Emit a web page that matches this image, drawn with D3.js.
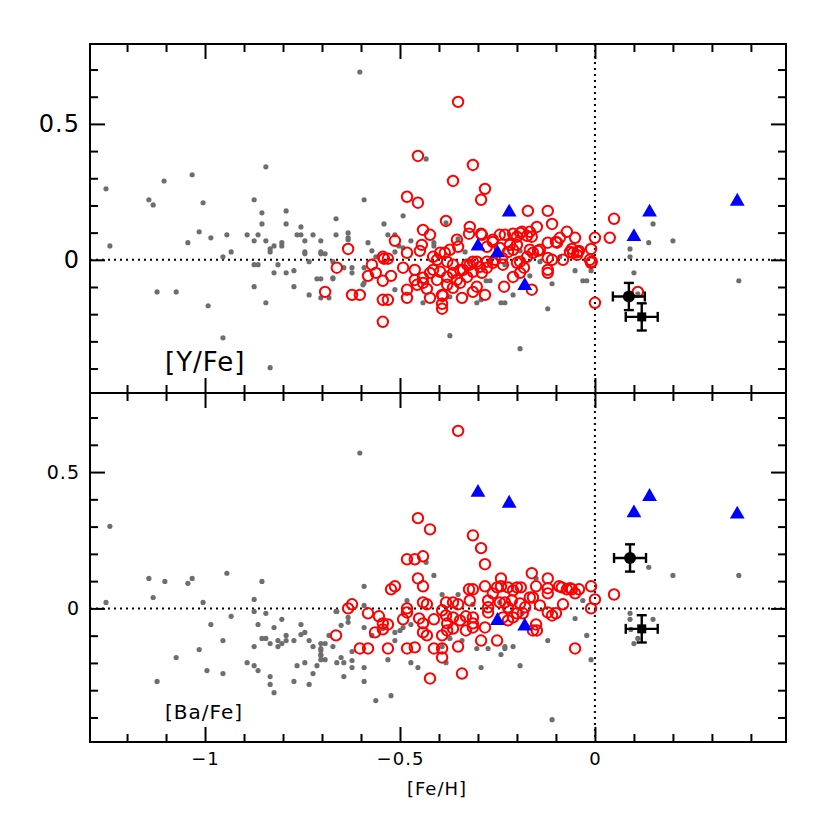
<!DOCTYPE html>
<html><head><meta charset="utf-8">
<script src="https://cdn.jsdelivr.net/npm/d3@7"></script>
<style>body{margin:0;background:#fff} text{font-family:"DejaVu Sans",sans-serif}</style>
</head><body><svg id="c" width="830" height="830"></svg>
<script>
// ---------- data ----------
const xMajorTicks=[-1,-0.5,0];
const xMinorTicks=[-1.2,-1.1,-0.9,-0.8,-0.7,-0.6,-0.4,-0.3,-0.2,-0.1,0.1,0.2,0.3,0.4];
const yMajorTicks=[0,0.5];
const yMinorTicks=[-0.4,-0.3,-0.2,-0.1,0.1,0.2,0.3,0.4,0.6,0.7];
const xLabel="[Fe/H]";
const panelLabels=["[Y/Fe]","[Ba/Fe]"];

// [Fe/H], [Y/Fe] — field stars (grey dots)
const yGrey=[[-1.254,0.261],[-1.144,0.221],[-1.133,0.202],[-1.105,0.290],[-1.033,0.313],[-1.005,0.210],[-0.844,0.342],[-0.874,0.221],[-0.854,0.173],[-0.854,0.132],[-0.792,0.180],[-0.792,0.132],[-0.754,0.121],[-0.664,0.151],[-1.015,0.103],[-0.985,0.081],[-0.944,0.092],[-0.892,0.092],[-0.864,0.092],[-0.764,0.092],[-0.754,0.092],[-0.723,0.092],[-0.664,0.092],[-1.244,0.051],[-1.044,0.063],[-0.874,0.070],[-0.844,0.070],[-0.833,0.040],[-0.833,0.029],[-0.823,0.051],[-0.803,0.063],[-0.803,0.051],[-0.744,0.070],[-0.744,0.029],[-0.744,0.022],[-0.703,0.070],[-0.703,0.029],[-0.703,0.022],[-0.692,0.022],[-0.954,0.011],[-0.933,0.029],[-0.874,-0.018],[-0.864,-0.018],[-0.823,-0.048],[-0.813,-0.018],[-0.792,-0.048],[-0.772,-0.040],[-0.733,-0.007],[-0.713,-0.070],[-0.703,-0.070],[-0.672,-0.070],[-0.874,-0.099],[-0.772,-0.099],[-0.733,-0.129],[-0.703,-0.140],[-0.682,-0.140],[-1.123,-0.118],[-1.074,-0.118],[-0.992,-0.169],[-0.844,-0.158],[-0.954,-0.287],[-0.833,-0.397],
[-0.603,0.691],[-0.433,0.371],[-0.592,0.221],[-0.492,0.162],[-0.541,0.132],[-0.633,0.099],[-0.633,0.081],[-0.633,0.074],[-0.582,0.063],[-0.531,0.092],[-0.513,0.092],[-0.472,0.070],[-0.413,0.063],[-0.413,0.051],[-0.572,0.033],[-0.562,0.011],[-0.503,0.051],[-0.492,0.044],[-0.513,0.029],[-0.672,-0.007],[-0.644,-0.029],[-0.623,-0.029],[-0.623,-0.048],[-0.592,-0.029],[-0.592,-0.085],[-0.672,-0.066],[-0.513,-0.110],[-0.441,-0.158],[-0.303,-0.158],[-0.292,-0.147],[-0.279,-0.077],[-0.269,-0.077],[-0.241,-0.158],[-0.231,-0.158],[-0.210,-0.129],[-0.121,-0.180],[-0.110,-0.088],[-0.051,-0.040],[-0.031,-0.077],[-0.021,-0.077],[-0.010,-0.040],[-0.392,-0.147],[-0.351,0.077],[-0.382,0.136],[-0.333,0.029],[-0.372,-0.136],[-0.372,-0.279],[-0.192,-0.327],[-0.231,-0.018],[-0.595,-0.092],[0.149,0.132],[0.090,0.040],[0.090,0.011],[0.138,0.063],[0.200,0.070],[0.100,-0.048],[0.110,-0.125],[0.369,-0.077],[-0.192,0.033],[-0.141,-0.007],[-0.090,0.011],[-0.320,-0.007],[-0.270,-0.007],[-0.167,-0.059]];

// [Fe/H], [Y/Fe] — this work (red open circles)
const yRed=[[-0.351,0.581],[-0.454,0.382],[-0.313,0.349],[-0.364,0.290],[-0.282,0.261],[-0.292,0.221],[-0.482,0.232],[-0.454,0.210],[-0.172,0.180],[-0.121,0.180],[-0.382,0.143],[-0.110,0.132],[-0.441,0.110],[-0.423,0.092],[-0.513,0.070],[-0.321,0.121],[-0.323,0.096],[-0.292,0.096],[-0.449,0.033],[-0.444,0.055],[-0.482,0.026],[-0.633,0.040],[-0.662,-0.029],[-0.692,-0.118],[-0.623,-0.129],[-0.603,-0.129],[-0.544,-0.147],[-0.531,-0.147],[-0.544,-0.228],[-0.572,-0.018],[-0.582,-0.059],[-0.544,-0.077],[-0.523,-0.059],[-0.562,-0.048],[-0.541,0.004],[-0.531,0.004],[-0.492,-0.029],[-0.482,-0.110],[-0.482,-0.140],[-0.462,-0.037],[-0.462,-0.074],[-0.441,-0.085],[-0.431,-0.107],[-0.423,-0.140],[-0.392,-0.129],[-0.392,-0.162],[-0.392,-0.180],[-0.341,-0.140],[-0.313,-0.118],[-0.282,-0.129],[-0.303,-0.099],[-0.233,-0.099],[-0.162,-0.110],[-0.182,-0.029],[-0.210,-0.063],[-0.192,-0.048],[-0.121,-0.048],[-0.121,-0.037],[-0.082,0.000],[-0.056,0.026],[-0.072,0.103],[-0.051,0.081],[-0.090,0.081],[-0.100,0.066],[-0.121,0.063],[-0.146,0.033],[-0.159,0.026],[-0.174,0.011],[-0.192,-0.007],[-0.210,0.037],[-0.223,0.029],[-0.238,0.007],[-0.262,-0.011],[-0.277,0.048],[-0.262,0.066],[-0.244,0.092],[-0.231,0.092],[-0.210,0.096],[-0.192,0.099],[-0.174,0.088],[-0.162,0.085],[-0.149,0.121],[-0.200,0.055],[-0.218,0.055],[-0.354,0.074],[-0.351,0.048],[-0.372,0.037],[-0.397,0.026],[-0.415,0.011],[-0.379,-0.007],[-0.364,-0.018],[-0.346,-0.037],[-0.328,-0.018],[-0.313,-0.007],[-0.295,-0.026],[-0.415,-0.037],[-0.423,-0.048],[-0.405,-0.074],[-0.379,-0.063],[-0.364,-0.048],[-0.354,-0.074],[-0.328,-0.063],[-0.313,-0.044],[-0.290,-0.048],[-0.379,-0.092],[-0.364,-0.103],[-0.346,-0.085],[0.049,0.151],[0.038,0.081],[0.000,0.081],[-0.010,0.040],[-0.010,-0.011],[-0.059,0.040],[-0.041,0.033],[0.110,-0.118],[0.000,-0.158],[-0.544,0.011],[-0.441,-0.066],[-0.390,-0.132],[-0.008,-0.007],[-0.044,0.029],[-0.097,0.063],[-0.141,0.037],[-0.200,-0.011],[-0.236,-0.018],[-0.256,0.000],[-0.277,-0.007],[-0.277,-0.029],[-0.303,-0.007],[-0.321,-0.018],[-0.338,-0.037],[-0.397,-0.044],[-0.456,-0.092],[-0.405,0.000],[-0.385,0.026],[-0.290,0.092],[-0.262,0.074],[-0.200,0.085],[-0.187,0.103],[-0.167,0.103],[-0.244,0.044],[-0.167,0.037],[-0.121,0.007],[-0.110,0.000],[-0.064,0.029],[-0.046,0.018],[-0.013,0.000]];

// [Fe/H], [Y/Fe] — blue triangles
const yBlue=[[-0.300,0.050],[-0.250,0.025],[-0.220,0.175],[-0.180,-0.095],[0.100,0.085],[0.140,0.175],[0.365,0.215]];

// [Fe/H], [Ba/Fe] — field stars (grey dots)
const baGrey=[[-1.244,0.301],[-1.144,0.110],[-1.133,0.040],[-1.103,0.099],[-1.044,0.092],[-1.033,0.110],[-0.944,0.129],[-0.874,0.033],[-0.854,0.099],[-1.254,0.022],[-1.005,0.022],[-0.874,-0.011],[-0.844,-0.018],[-0.664,-0.011],[-0.985,-0.059],[-0.933,-0.029],[-0.864,-0.059],[-0.823,-0.070],[-0.803,-0.040],[-0.754,-0.059],[-0.954,-0.118],[-1.015,-0.151],[-1.074,-0.180],[-1.123,-0.268],[-0.995,-0.228],[-0.954,-0.239],[-0.892,-0.199],[-0.874,-0.210],[-0.864,-0.228],[-0.833,-0.250],[-0.833,-0.279],[-0.823,-0.309],[-0.772,-0.268],[-0.733,-0.279],[-0.723,-0.239],[-0.713,-0.210],[-0.764,-0.210],[-0.744,-0.199],[-0.703,-0.188],[-0.692,-0.188],[-0.854,-0.110],[-0.844,-0.110],[-0.833,-0.129],[-0.874,-0.140],[-0.813,-0.118],[-0.803,-0.129],[-0.792,-0.118],[-0.813,-0.140],[-0.792,-0.099],[-0.772,-0.118],[-0.754,-0.096],[-0.744,-0.088],[-0.733,-0.118],[-0.723,-0.140],[-0.703,-0.129],[-0.692,-0.129],[-0.703,-0.147],[-0.703,-0.169],[-0.682,-0.099],[-0.672,-0.140],[-0.662,-0.199],
[-0.603,0.570],[-0.433,0.169],[-0.413,0.121],[-0.592,0.081],[-0.592,0.011],[-0.662,-0.011],[-0.633,-0.033],[-0.633,-0.051],[-0.651,-0.062],[-0.592,-0.070],[-0.572,-0.099],[-0.544,-0.074],[-0.513,-0.088],[-0.513,-0.118],[-0.500,-0.081],[-0.482,0.029],[-0.492,-0.070],[-0.472,-0.059],[-0.703,-0.154],[-0.703,-0.173],[-0.623,-0.158],[-0.651,-0.180],[-0.644,-0.199],[-0.623,-0.191],[-0.623,-0.217],[-0.592,-0.217],[-0.592,-0.268],[-0.644,-0.250],[-0.562,-0.338],[-0.523,-0.320],[-0.531,-0.188],[-0.472,-0.199],[-0.454,-0.217],[-0.382,-0.199],[-0.392,-0.140],[-0.372,-0.110],[-0.341,-0.118],[-0.303,-0.147],[-0.292,-0.217],[-0.274,-0.147],[-0.231,-0.140],[-0.231,-0.147],[-0.210,-0.140],[-0.241,-0.169],[-0.192,-0.210],[-0.121,-0.118],[-0.110,-0.408],[-0.051,-0.037],[-0.392,0.051],[-0.351,0.051],[-0.313,0.015],[-0.244,0.022],[-0.151,0.110],[-0.187,-0.018],
[0.138,0.151],[0.200,0.121],[0.369,0.121],[-0.031,0.029],[-0.021,-0.099],[-0.010,-0.188],[0.090,-0.018],[0.090,-0.040],[0.149,-0.040],[0.092,-0.077],[0.110,-0.110],[0.100,-0.129]];

// [Fe/H], [Ba/Fe] — this work (red open circles)
const baRed=[[-0.351,0.651],[-0.454,0.331],[-0.423,0.290],[-0.313,0.268],[-0.292,0.221],[-0.282,0.162],[-0.482,0.180],[-0.462,0.180],[-0.441,0.191],[-0.454,0.110],[-0.441,0.081],[-0.523,0.070],[-0.513,0.081],[-0.633,0.000],[-0.623,0.015],[-0.582,-0.018],[-0.664,-0.099],[-0.554,-0.029],[-0.544,-0.055],[-0.531,-0.059],[-0.544,-0.077],[-0.564,-0.088],[-0.603,-0.147],[-0.582,-0.147],[-0.531,-0.147],[-0.492,-0.040],[-0.482,0.000],[-0.482,-0.015],[-0.482,-0.147],[-0.462,-0.143],[-0.451,-0.037],[-0.441,0.022],[-0.431,0.015],[-0.441,-0.055],[-0.441,-0.088],[-0.431,-0.099],[-0.413,-0.040],[-0.413,-0.147],[-0.392,-0.147],[-0.392,-0.180],[-0.423,-0.257],[-0.351,-0.140],[-0.341,-0.239],[-0.392,-0.099],[-0.379,-0.081],[-0.392,-0.007],[-0.382,0.022],[-0.364,0.022],[-0.351,0.015],[-0.382,-0.026],[-0.364,-0.033],[-0.346,-0.044],[-0.379,-0.055],[-0.364,-0.074],[-0.331,-0.029],[-0.331,-0.081],[-0.313,-0.033],[-0.313,-0.055],[-0.313,-0.070],[-0.323,0.070],[-0.313,0.070],[-0.321,0.029],[-0.282,0.081],[-0.282,-0.070],[-0.292,-0.118],[-0.251,-0.118],[-0.274,0.029],[-0.274,0.004],[-0.274,-0.015],[-0.262,0.055],[-0.251,0.077],[-0.241,0.110],[-0.241,0.081],[-0.223,0.077],[-0.210,0.066],[-0.200,0.077],[-0.190,0.077],[-0.244,0.022],[-0.231,0.022],[-0.223,0.004],[-0.213,0.029],[-0.192,0.018],[-0.185,-0.018],[-0.179,0.004],[-0.167,0.040],[-0.159,0.040],[-0.236,-0.033],[-0.223,-0.044],[-0.210,-0.033],[-0.200,-0.018],[-0.162,0.129],[-0.151,0.081],[-0.121,0.110],[-0.121,0.074],[-0.121,0.055],[-0.092,0.081],[-0.072,0.070],[-0.059,0.070],[-0.051,0.055],[-0.082,0.015],[-0.141,0.011],[-0.121,-0.015],[-0.110,-0.026],[-0.100,-0.018],[-0.151,-0.059],[-0.159,-0.081],[-0.149,-0.081],[-0.051,-0.147],[0.049,0.051],[-0.010,0.081],[0.000,0.033],[-0.010,0.000],[-0.041,0.070],[-0.064,0.074],[-0.085,0.077]];

// [Fe/H], [Ba/Fe] — blue triangles
const baBlue=[[-0.300,0.425],[-0.220,0.385],[-0.250,-0.045],[-0.180,-0.065],[0.100,0.350],[0.140,0.410],[0.365,0.345]];

// two reference points with errors: [feh, value, errFeh, errValue]
const yErrCircle=[0.087,-0.135,0.041,0.05];
const yErrSquare=[0.120,-0.210,0.041,0.05];
const baErrCircle=[0.090,0.185,0.041,0.05];
const baErrSquare=[0.120,-0.075,0.041,0.05];

// ---------- drawing ----------
const svg=d3.select("#c");
const L=90,R=786;
const x=d3.scaleLinear([-1.295,0.49],[L,R]);
const panels=[
  {top:44,bot:393,y:d3.scaleLinear([-0.49,0.794],[393,44]),grey:yGrey,red:yRed,blue:yBlue,ec:yErrCircle,es:yErrSquare,label:panelLabels[0],lfs:26,lx:165,ly:371,tfs:24,xlabels:false},
  {top:393,bot:742,y:d3.scaleLinear([-0.49,0.79],[742,393]),grey:baGrey,red:baRed,blue:baBlue,ec:baErrCircle,es:baErrSquare,label:panelLabels[1],lfs:20,lx:165,ly:719,tfs:19,xlabels:true}
];
const fmt=d3.format("");

panels.forEach(p=>{
  const g=svg.append("g");
  const y=p.y;
  // zero lines (dotted)
  g.append("line").attr("x1",L).attr("x2",R).attr("y1",y(0)).attr("y2",y(0))
    .attr("stroke","#000").attr("stroke-width",2).attr("stroke-dasharray","2,4");
  g.append("line").attr("x1",x(0)).attr("x2",x(0)).attr("y1",p.top).attr("y2",p.bot)
    .attr("stroke","#000").attr("stroke-width",2).attr("stroke-dasharray","2,4");

  // grey dots
  g.append("g").selectAll("circle").data(p.grey).join("circle")
    .attr("cx",d=>x(d[0])).attr("cy",d=>y(d[1])).attr("r",2.6).attr("fill","#6e6e6e");
  // red open circles
  g.append("g").selectAll("circle").data(p.red).join("circle")
    .attr("cx",d=>x(d[0])).attr("cy",d=>y(d[1])).attr("r",5.2).attr("fill","none")
    .attr("stroke","#ff0000").attr("stroke-width",2);
  // blue triangles
  g.append("g").selectAll("path").data(p.blue).join("path")
    .attr("transform",d=>`translate(${x(d[0])},${y(d[1])})`)
    .attr("d",d3.symbol(d3.symbolTriangle,95)).attr("fill","#0000ff");

  // error-bar points
  [[p.ec,"circle"],[p.es,"square"]].forEach(([e,shape])=>{
    const cx=x(e[0]),cy=y(e[1]);
    const x0=x(e[0]-e[2]),x1=x(e[0]+e[2]),y0=y(e[1]-e[3]),y1=y(e[1]+e[3]);
    const eg=g.append("g").attr("stroke","#000").attr("stroke-width",2.4);
    eg.append("line").attr("x1",x0).attr("x2",x1).attr("y1",cy).attr("y2",cy);
    eg.append("line").attr("x1",cx).attr("x2",cx).attr("y1",y0).attr("y2",y1);
    eg.append("line").attr("x1",x0).attr("x2",x0).attr("y1",cy-5).attr("y2",cy+5);
    eg.append("line").attr("x1",x1).attr("x2",x1).attr("y1",cy-5).attr("y2",cy+5);
    eg.append("line").attr("x1",cx-5).attr("x2",cx+5).attr("y1",y0).attr("y2",y0);
    eg.append("line").attr("x1",cx-5).attr("x2",cx+5).attr("y1",y1).attr("y2",y1);
    if(shape==="circle") g.append("circle").attr("cx",cx).attr("cy",cy).attr("r",6).attr("fill","#000");
    else g.append("rect").attr("x",cx-4.5).attr("y",cy-4.5).attr("width",9).attr("height",9).attr("fill","#000");
  });

  // axes (inward ticks, all four sides)
  const mk=(axis,tr,ticks,size,labels,fs,pad,ls)=>{
    const a=axis.tickValues(ticks).tickSizeOuter(0).tickSizeInner(-size).tickPadding(pad||8)
      .tickFormat(labels?fmt:"");
    const ag=svg.append("g").attr("transform",tr).call(a);
    ag.select(".domain").remove();
    ag.selectAll("line").attr("stroke","#000").attr("stroke-width",2);
    ag.selectAll("text").attr("font-size",fs||17).attr("fill","#000")
      .attr("font-family","DejaVu Sans, sans-serif").attr("letter-spacing",ls||0);
  };
  mk(d3.axisBottom(x),`translate(0,${p.bot})`,xMinorTicks,8,false);
  mk(d3.axisBottom(x),`translate(0,${p.bot})`,xMajorTicks,15,p.xlabels,18,10,1);
  mk(d3.axisTop(x),`translate(0,${p.top})`,xMinorTicks,8,false);
  mk(d3.axisTop(x),`translate(0,${p.top})`,xMajorTicks,15,false);
  mk(d3.axisLeft(y),`translate(${L},0)`,yMinorTicks,8,false);
  mk(d3.axisLeft(y),`translate(${L},0)`,yMajorTicks,15,true,p.tfs,10,1);
  mk(d3.axisRight(y),`translate(${R},0)`,yMinorTicks,8,false);
  mk(d3.axisRight(y),`translate(${R},0)`,yMajorTicks,15,false);

  // frame
  svg.append("rect").attr("x",L).attr("y",p.top).attr("width",R-L).attr("height",p.bot-p.top)
    .attr("fill","none").attr("stroke","#000").attr("stroke-width",2);

  // panel label
  svg.append("text").attr("x",p.lx).attr("y",p.ly).attr("font-size",p.lfs).attr("letter-spacing",1).text(p.label);
});

svg.append("text").attr("x",437).attr("y",795).attr("text-anchor","middle")
  .attr("font-size",18).attr("letter-spacing",1).text(xLabel);
</script></body></html>
